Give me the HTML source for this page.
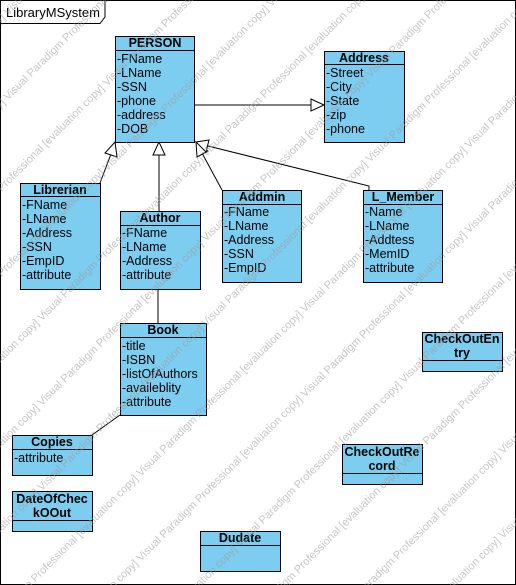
<!DOCTYPE html>
<html><head><style>
html,body{margin:0;background:#fff;width:516px;height:585px;overflow:hidden;}
svg{display:block;overflow:hidden;}
svg text{font-family:"Liberation Sans",sans-serif;}
</style></head><body>
<svg width="516" height="585" xmlns="http://www.w3.org/2000/svg">
<defs><clipPath id="c"><rect x="0" y="0" width="516" height="585"/></clipPath></defs>
<rect x="0.5" y="0.5" width="515" height="584" fill="#fff" stroke="#000"/>
<path d="M0.5 23.5 H100 L105 17 V0.5" fill="none" stroke="#000"/>
<text x="6" y="17" font-size="13">LibraryMSystem</text>
<g stroke="#000" fill="#fff">
<line x1="194" y1="105" x2="311" y2="105"/>
<polygon points="311,99 324,105 311,111"/>
<line x1="100" y1="183" x2="111" y2="154"/>
<polygon points="115,142 117,157 105,153"/>
<line x1="159" y1="211" x2="159" y2="155"/>
<polygon points="159,142 165,155 153,155"/>
<line x1="222" y1="190" x2="202" y2="153"/>
<polygon points="196,142 208,151 197,157"/>
<polyline points="369,190 369,186 208,146" fill="none"/>
<polygon points="196,142 209,140 206,152"/>
<line x1="158" y1="289" x2="158" y2="323"/>
<line x1="120" y1="415" x2="92" y2="435"/>
</g>
<g font-size="12.5" fill="#000">
<g stroke="#000" fill="#7dcdf0">
<rect x="115.5" y="36.5" width="79" height="106"/><line x1="115" y1="50.5" x2="195" y2="50.5"/>
<rect x="324.5" y="51.5" width="80" height="91"/><line x1="324" y1="64.5" x2="405" y2="64.5"/>
<rect x="20.5" y="183.5" width="80" height="106"/><line x1="20" y1="196.5" x2="101" y2="196.5"/>
<rect x="120.5" y="211.5" width="80" height="78"/><line x1="120" y1="225.5" x2="201" y2="225.5"/>
<rect x="222.5" y="190.5" width="79" height="92"/><line x1="222" y1="204.5" x2="302" y2="204.5"/>
<rect x="363.5" y="190.5" width="79" height="92"/><line x1="363" y1="204.5" x2="443" y2="204.5"/>
<rect x="120.5" y="323.5" width="86" height="92"/><line x1="120" y1="337.5" x2="207" y2="337.5"/>
<rect x="12.5" y="435.5" width="80" height="40"/><line x1="12" y1="449.5" x2="93" y2="449.5"/>
<rect x="12.5" y="491.5" width="80" height="40"/><line x1="12" y1="520.5" x2="93" y2="520.5"/>
<rect x="200.5" y="531.5" width="80" height="40"/><line x1="200" y1="545.5" x2="281" y2="545.5"/>
<rect x="422.5" y="332.5" width="80" height="39"/><line x1="422" y1="360.5" x2="503" y2="360.5"/>
<rect x="342.5" y="444.5" width="80" height="40"/><line x1="342" y1="473.5" x2="423" y2="473.5"/>
</g>
<g font-weight="bold" text-anchor="middle">
<text x="155" y="47">PERSON</text>
<text x="364" y="62">Address</text>
<text x="60" y="194">Librerian</text>
<text x="160" y="222">Author</text>
<text x="262" y="201">Addmin</text>
<text x="403" y="201">L_Member</text>
<text x="163" y="334">Book</text>
<text x="52" y="446">Copies</text>
<text x="52" y="503">DateOfChec</text><text x="52" y="517">kOOut</text>
<text x="240" y="542">Dudate</text>
<text x="462" y="343">CheckOutEn</text><text x="462" y="357">try</text>
<text x="382" y="456">CheckOutRe</text><text x="382" y="470">cord</text>
</g>
<text x="117" y="63">-FName</text><text x="117" y="77">-LName</text><text x="117" y="91">-SSN</text><text x="117" y="105">-phone</text><text x="117" y="119">-address</text><text x="117" y="133">-DOB</text>
<text x="326" y="77">-Street</text><text x="326" y="91">-City</text><text x="326" y="105">-State</text><text x="326" y="119">-zip</text><text x="326" y="133">-phone</text>
<text x="22" y="209">-FName</text><text x="22" y="223">-LName</text><text x="22" y="237">-Address</text><text x="22" y="251">-SSN</text><text x="22" y="265">-EmpID</text><text x="22" y="279">-attribute</text>
<text x="122" y="237">-FName</text><text x="122" y="251">-LName</text><text x="122" y="265">-Address</text><text x="122" y="279">-attribute</text>
<text x="224" y="216">-FName</text><text x="224" y="230">-LName</text><text x="224" y="244">-Address</text><text x="224" y="258">-SSN</text><text x="224" y="272">-EmpID</text>
<text x="365" y="216">-Name</text><text x="365" y="230">-LName</text><text x="365" y="244">-Addtess</text><text x="365" y="258">-MemID</text><text x="365" y="272">-attribute</text>
<text x="122" y="350">-title</text><text x="122" y="364">-ISBN</text><text x="122" y="378">-listOfAuthors</text><text x="122" y="392">-availeblity</text><text x="122" y="406">-attribute</text>
<text x="14" y="462">-attribute</text>
</g>
<g clip-path="url(#c)">
<g font-size="11" fill="#999" opacity="0.55" transform="rotate(-45 258 292)">
<text x="-500" y="-140">Visual Paradigm Professional [evaluation copy]   Visual Paradigm Professional [evaluation copy]   Visual Paradigm Professional [evaluation copy]   Visual Paradigm Professional [evaluation copy]   Visual Paradigm Professional [evaluation copy]</text>
<text x="-420" y="-80">Visual Paradigm Professional [evaluation copy]   Visual Paradigm Professional [evaluation copy]   Visual Paradigm Professional [evaluation copy]   Visual Paradigm Professional [evaluation copy]   Visual Paradigm Professional [evaluation copy]</text>
<text x="-480" y="-20">Visual Paradigm Professional [evaluation copy]   Visual Paradigm Professional [evaluation copy]   Visual Paradigm Professional [evaluation copy]   Visual Paradigm Professional [evaluation copy]   Visual Paradigm Professional [evaluation copy]</text>
<text x="-400" y="40">Visual Paradigm Professional [evaluation copy]   Visual Paradigm Professional [evaluation copy]   Visual Paradigm Professional [evaluation copy]   Visual Paradigm Professional [evaluation copy]   Visual Paradigm Professional [evaluation copy]</text>
<text x="-460" y="100">Visual Paradigm Professional [evaluation copy]   Visual Paradigm Professional [evaluation copy]   Visual Paradigm Professional [evaluation copy]   Visual Paradigm Professional [evaluation copy]   Visual Paradigm Professional [evaluation copy]</text>
<text x="-380" y="160">Visual Paradigm Professional [evaluation copy]   Visual Paradigm Professional [evaluation copy]   Visual Paradigm Professional [evaluation copy]   Visual Paradigm Professional [evaluation copy]   Visual Paradigm Professional [evaluation copy]</text>
<text x="-440" y="220">Visual Paradigm Professional [evaluation copy]   Visual Paradigm Professional [evaluation copy]   Visual Paradigm Professional [evaluation copy]   Visual Paradigm Professional [evaluation copy]   Visual Paradigm Professional [evaluation copy]</text>
<text x="-500" y="280">Visual Paradigm Professional [evaluation copy]   Visual Paradigm Professional [evaluation copy]   Visual Paradigm Professional [evaluation copy]   Visual Paradigm Professional [evaluation copy]   Visual Paradigm Professional [evaluation copy]</text>
<text x="-420" y="340">Visual Paradigm Professional [evaluation copy]   Visual Paradigm Professional [evaluation copy]   Visual Paradigm Professional [evaluation copy]   Visual Paradigm Professional [evaluation copy]   Visual Paradigm Professional [evaluation copy]</text>
<text x="-480" y="400">Visual Paradigm Professional [evaluation copy]   Visual Paradigm Professional [evaluation copy]   Visual Paradigm Professional [evaluation copy]   Visual Paradigm Professional [evaluation copy]   Visual Paradigm Professional [evaluation copy]</text>
<text x="-400" y="460">Visual Paradigm Professional [evaluation copy]   Visual Paradigm Professional [evaluation copy]   Visual Paradigm Professional [evaluation copy]   Visual Paradigm Professional [evaluation copy]   Visual Paradigm Professional [evaluation copy]</text>
<text x="-460" y="520">Visual Paradigm Professional [evaluation copy]   Visual Paradigm Professional [evaluation copy]   Visual Paradigm Professional [evaluation copy]   Visual Paradigm Professional [evaluation copy]   Visual Paradigm Professional [evaluation copy]</text>
<text x="-380" y="580">Visual Paradigm Professional [evaluation copy]   Visual Paradigm Professional [evaluation copy]   Visual Paradigm Professional [evaluation copy]   Visual Paradigm Professional [evaluation copy]   Visual Paradigm Professional [evaluation copy]</text>
<text x="-440" y="640">Visual Paradigm Professional [evaluation copy]   Visual Paradigm Professional [evaluation copy]   Visual Paradigm Professional [evaluation copy]   Visual Paradigm Professional [evaluation copy]   Visual Paradigm Professional [evaluation copy]</text>
<text x="-500" y="700">Visual Paradigm Professional [evaluation copy]   Visual Paradigm Professional [evaluation copy]   Visual Paradigm Professional [evaluation copy]   Visual Paradigm Professional [evaluation copy]   Visual Paradigm Professional [evaluation copy]</text>
</g>
</g>
</svg>
</body></html>
